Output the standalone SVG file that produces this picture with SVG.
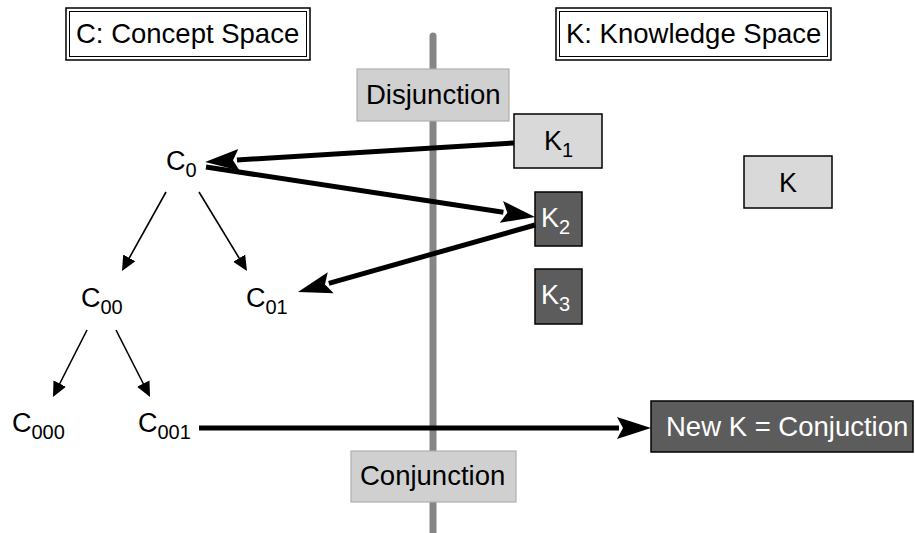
<svg xmlns="http://www.w3.org/2000/svg" width="915" height="533" viewBox="0 0 915 533">
<defs>
<style>
text{font-family:"Liberation Sans",Arial,sans-serif;fill:#000;}
.t{font-size:27.5px;}
.c{font-size:27px;}
.s{font-size:20px;}
.w{fill:#fff;}
.title{fill:#fff;stroke:#000;stroke-width:1.5;}
.title2{fill:none;stroke:#000;stroke-width:1;}
.lbl{fill:#d0d0d0;stroke:#b0b0b0;stroke-width:1.2;}
.kl{fill:#d9d9d9;stroke:#000;stroke-width:1.5;}
.kd{fill:#5c5c5c;stroke:#000;stroke-width:1.5;}
.thick{stroke:#000;stroke-width:5;fill:none;marker-end:url(#big);}
.thin{stroke:#000;stroke-width:1.6;fill:none;marker-end:url(#small);}
</style>
<marker id="big" markerUnits="userSpaceOnUse" markerWidth="36" markerHeight="24" viewBox="0 -12 36 24" refX="2" refY="0" orient="auto">
<path d="M0,-11 L34,0 L0,11 L6,0 z" fill="#000"/>
</marker>
<marker id="small" markerUnits="userSpaceOnUse" markerWidth="17" markerHeight="16" viewBox="0 -8 17 16" refX="1" refY="0" orient="auto">
<path d="M0,-7 L15,0 L0,7 z" fill="#000"/>
</marker>
</defs>
<rect width="915" height="533" fill="#fff"/>

<line x1="433" y1="36" x2="433" y2="533" stroke="#858585" stroke-width="7" stroke-linecap="round"/>

<g id="title-c">
<rect class="title" x="66" y="8" width="244" height="52"/>
<rect class="title2" x="69.5" y="11.5" width="237" height="45"/>
<text class="t" x="76" y="43">C: Concept Space</text>
</g>
<g id="title-k">
<rect class="title" x="556" y="8" width="275" height="52"/>
<rect class="title2" x="559.5" y="11.5" width="268" height="45"/>
<text class="t" x="566" y="43">K: Knowledge Space</text>
</g>

<g id="disjunction">
<rect class="lbl" x="357" y="69" width="152" height="52"/>
<text class="t" x="366" y="104">Disjunction</text>
</g>
<g id="conjunction">
<rect class="lbl" x="351" y="451" width="165" height="51"/>
<text class="t" x="360" y="485">Conjunction</text>
</g>

<g id="K1">
<rect class="kl" x="514" y="114" width="88" height="54"/>
<text class="c" x="544" y="150">K<tspan class="s" dy="7">1</tspan></text>
</g>
<g id="K2">
<rect class="kd" x="535" y="192" width="47" height="54"/>
<text class="c w" x="541" y="227">K<tspan class="s w" dy="7">2</tspan></text>
</g>
<g id="K3">
<rect class="kd" x="535" y="269" width="47" height="55"/>
<text class="c w" x="541" y="304">K<tspan class="s w" dy="7">3</tspan></text>
</g>
<g id="K">
<rect class="kl" x="744" y="156" width="88" height="52"/>
<text class="c" x="779" y="192">K</text>
</g>
<g id="newK">
<rect class="kd" x="651" y="401" width="262" height="51"/>
<text class="t w" x="666" y="436">New K = Conjuction</text>
</g>

<g id="C0"><text class="c" x="166" y="170">C<tspan class="s" dy="7">0</tspan></text></g>
<g id="C00"><text class="c" x="81" y="307">C<tspan class="s" dy="7">00</tspan></text></g>
<g id="C01"><text class="c" x="246" y="307">C<tspan class="s" dy="7">01</tspan></text></g>
<g id="C000"><text class="c" x="12" y="432">C<tspan class="s" dy="7">000</tspan></text></g>
<g id="C001"><text class="c" x="138" y="432">C<tspan class="s" dy="7">001</tspan></text></g>

<g id="connectors">
<line class="thick" x1="514" y1="143" x2="237" y2="160"/>
<line class="thick" x1="206" y1="167" x2="503.4" y2="212.2"/>
<line class="thick" x1="535" y1="225" x2="328.8" y2="283.3"/>
<line class="thick" x1="199" y1="428" x2="619" y2="428"/>
<line class="thin" x1="166" y1="192" x2="128.8" y2="258.8"/>
<line class="thin" x1="199" y1="192" x2="239.7" y2="259"/>
<line class="thin" x1="87" y1="330" x2="59.3" y2="384.5"/>
<line class="thin" x1="116" y1="330" x2="143.7" y2="384.5"/>
</g>
</svg>
